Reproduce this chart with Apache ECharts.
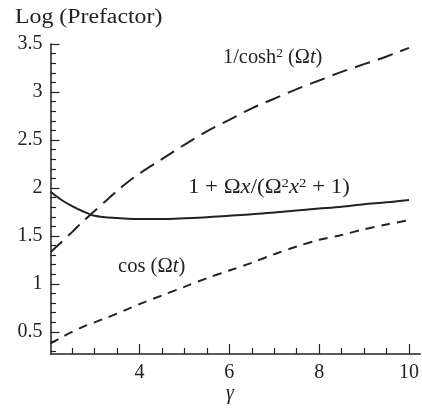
<!DOCTYPE html>
<html>
<head>
<meta charset="utf-8">
<script src="https://cdn.jsdelivr.net/npm/echarts@6/dist/echarts.min.js"></script>
<style>
  html, body { margin: 0; padding: 0; background: #ffffff; }
  #chart { width: 422px; height: 408px; }
</style>
</head>
<body>
<div id="chart"></div>
<script>
// Abscissa samples (gamma)
const gamma = [2.02, 2.25, 2.5, 2.75, 3, 3.25, 3.5, 3.75, 4, 4.5, 5, 5.5, 6, 6.5, 7, 7.5, 8, 8.5, 9, 9.5, 10];

// Log of the prefactor for each pulse shape
const coshPrefactor     = [1.33, 1.43, 1.54, 1.655, 1.76, 1.865, 1.97, 2.065, 2.15, 2.30, 2.45, 2.59, 2.71, 2.83, 2.93, 3.03, 3.12, 3.21, 3.29, 3.37, 3.46];
const rationalPrefactor = [1.96, 1.88, 1.81, 1.755, 1.71, 1.695, 1.686, 1.679, 1.676, 1.677, 1.685, 1.695, 1.71, 1.725, 1.745, 1.765, 1.785, 1.805, 1.83, 1.85, 1.875];
const cosPrefactor      = [0.38, 0.44, 0.50, 0.555, 0.60, 0.645, 0.69, 0.74, 0.79, 0.88, 0.97, 1.06, 1.14, 1.22, 1.31, 1.39, 1.46, 1.51, 1.57, 1.62, 1.665];

// Tick positions
const xMajorTicks = [4, 6, 8, 10];
const xMinorTicks = [2.5, 3, 3.5, 4.5, 5, 5.5, 6.5, 7, 7.5, 8.5, 9, 9.5];
const yMajorTicks = [0.5, 1, 1.5, 2, 2.5, 3, 3.5];
const yMinorTicks = [0.3, 0.4, 0.6, 0.7, 0.8, 0.9, 1.1, 1.2, 1.3, 1.4, 1.6, 1.7, 1.8, 1.9,
                     2.1, 2.2, 2.3, 2.4, 2.6, 2.7, 2.8, 2.9, 3.1, 3.2, 3.3, 3.4];

const INK = '#222222';
const FONT = '"Liberation Serif", "Times New Roman", serif';

const pair = (xs, ys) => xs.map((x, i) => [x, ys[i]]);

const X_MIN = 2.02, X_MAX = 10.25, Y_MIN = 0.27, Y_MAX = 3.5;

function xAxisDef(ticks, len, withLine, withLabels) {
  return {
    type: 'value', min: X_MIN, max: X_MAX, position: 'bottom',
    splitLine: { show: false },
    axisLine: { show: withLine, lineStyle: { color: INK, width: 1.5 } },
    axisTick: { show: true, inside: true, length: len, customValues: ticks,
                lineStyle: { color: INK, width: 1.2 } },
    axisLabel: withLabels
      ? { show: true, customValues: ticks, margin: 9, color: INK, fontFamily: FONT, fontSize: 20 }
      : { show: false }
  };
}

function yAxisDef(ticks, len, withLine, withLabels) {
  return {
    type: 'value', min: Y_MIN, max: Y_MAX, position: 'left',
    splitLine: { show: false },
    axisLine: { show: withLine, lineStyle: { color: INK, width: 1.5 } },
    axisTick: { show: true, inside: true, length: len, customValues: ticks,
                lineStyle: { color: INK, width: 1.2 } },
    axisLabel: withLabels
      ? { show: true, customValues: ticks, margin: 8, color: INK, fontFamily: FONT, fontSize: 20 }
      : { show: false }
  };
}

function curve(name, ys, dash) {
  return {
    name, type: 'line', data: pair(gamma, ys),
    xAxisIndex: 0, yAxisIndex: 0,
    showSymbol: false, smooth: 0.3,
    lineStyle: { color: INK, width: 2, type: dash, cap: 'butt' },
    silent: true
  };
}

const richBase = {
  n: { fontFamily: FONT, fontSize: 20, fill: INK },
  i: { fontFamily: FONT, fontSize: 20, fontStyle: 'italic', fill: INK },
  s: { fontFamily: FONT, fontSize: 13, fill: INK, verticalAlign: 'top', padding: [0, 0, 9, 0] }
};

function label(text, left, top, sx) {
  return {
    type: 'text', left, top, scaleX: sx || 1, silent: true,
    style: { text, rich: richBase, font: '20px ' + FONT, fill: INK }
  };
}

const chart = echarts.init(document.getElementById('chart'), null, { renderer: 'canvas' });
chart.setOption({
  animation: false,
  backgroundColor: '#ffffff',
  grid: { left: 50.5, right: 0, top: 44, bottom: 54, containLabel: false },
  xAxis: [
    xAxisDef(xMajorTicks, 10, true, true),
    xAxisDef(xMinorTicks, 6, false, false)
  ],
  yAxis: [
    yAxisDef(yMajorTicks, 9, true, true),
    yAxisDef(yMinorTicks, 5.5, false, false)
  ],
  series: [
    curve('1/cosh²(Ωt)', coshPrefactor, [16, 8]),
    curve('1 + Ωx/(Ω²x² + 1)', rationalPrefactor, 'solid'),
    curve('cos(Ωt)', cosPrefactor, [9, 7])
  ],
  graphic: [
    label('{n|Log (Prefactor)}', 15, 8, 1.19),
    label('{n|1/cosh}{s|2}{n| (Ω}{i|t}{n|)}', 223, 47, 1.02),
    label('{n|1 + Ω}{i|x}{n|/(Ω}{s|2}{i|x}{s|2}{n| + 1)}', 188, 177, 1.14),
    label('{n|cos (Ω}{i|t}{n|)}', 118, 257, 1.03),
    label('{i|γ}', 226, 384, 1)
  ]
});
</script>
</body>
</html>
